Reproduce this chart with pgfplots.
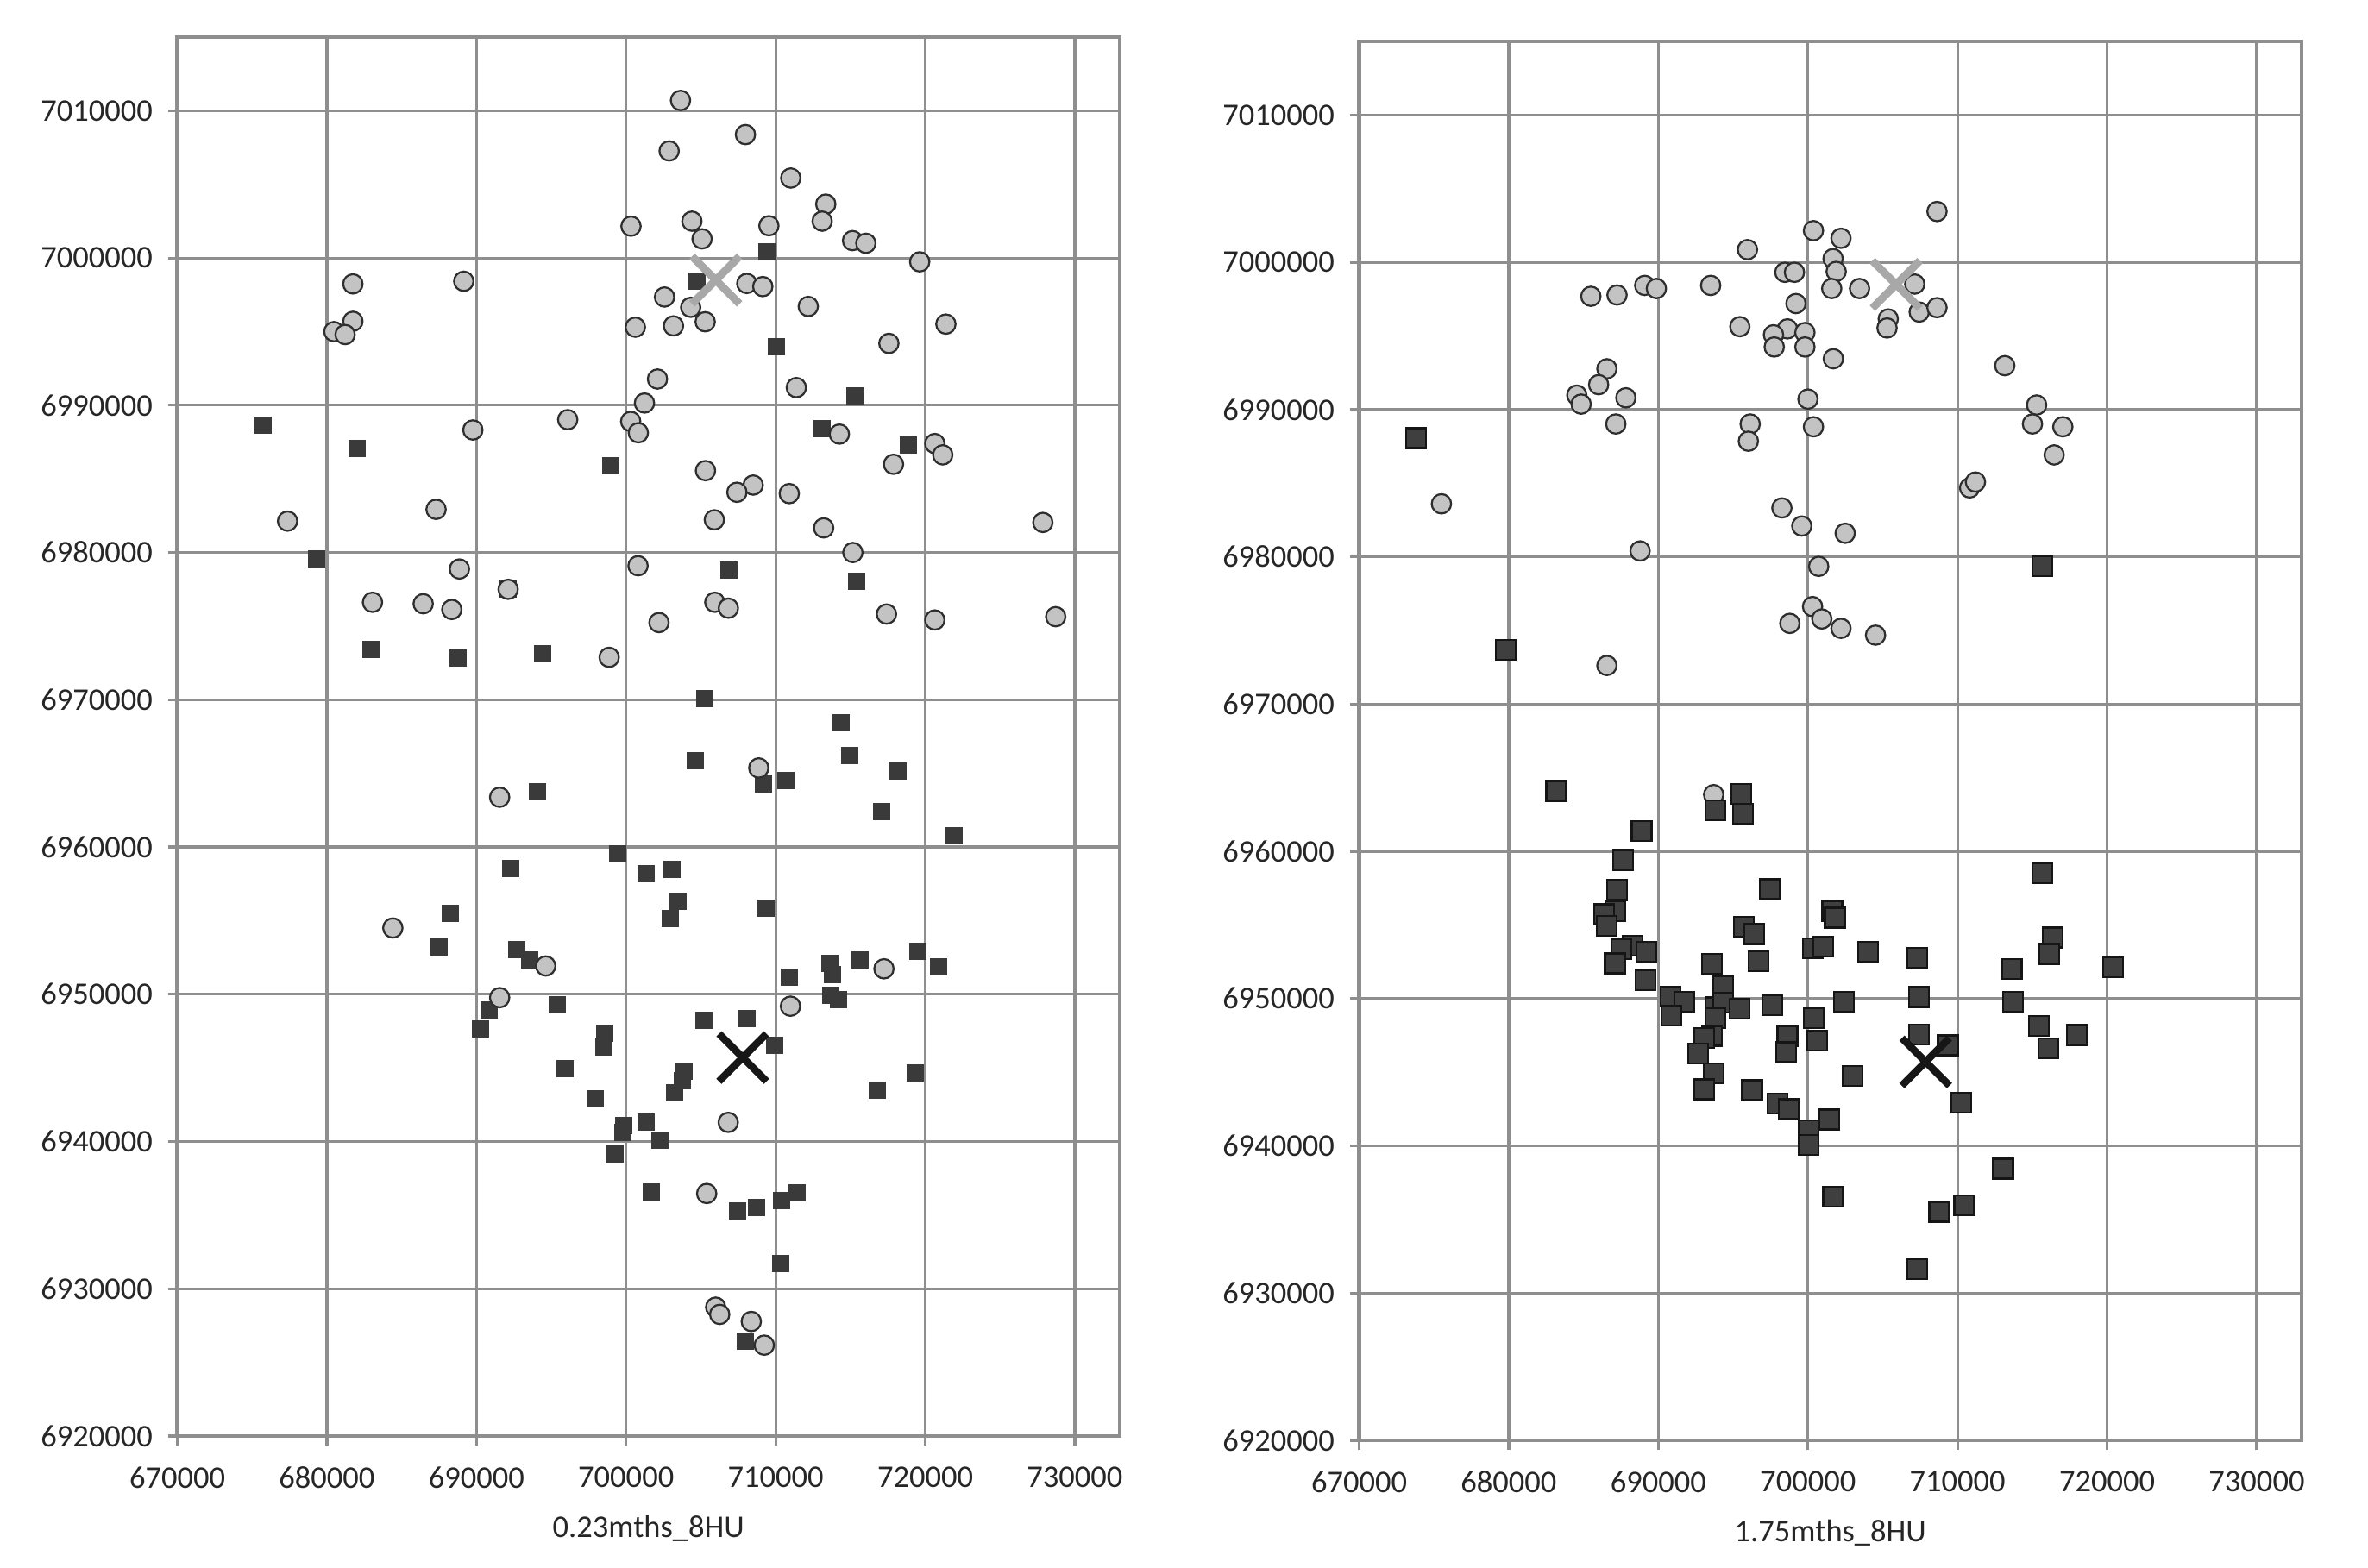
\documentclass[border=0pt]{standalone}
\usepackage{fontspec}
\setmainfont{Carlito}
\usepackage{pgfplots}
\pgfplotsset{compat=1.18}
\definecolor{gridc}{HTML}{8E8E8E}
\definecolor{circfill}{HTML}{C3C3C3}
\definecolor{circdraw}{HTML}{2E2E2E}
\definecolor{sqL}{HTML}{3A3A3A}
\definecolor{sqR}{HTML}{3F3F3F}
\definecolor{sqRd}{HTML}{151515}
\definecolor{grayx}{HTML}{A8A8A8}
\definecolor{blackx}{HTML}{161616}
\pgfplotsset{
  myaxis/.style={
    scale only axis, width=218.5pt, height=324.4pt,
    xmin=670000, xmax=733000, ymin=6920000, ymax=7015000,
    xtick={670000,680000,690000,700000,710000,720000,730000},
    ytick={6920000,6930000,6940000,6950000,6960000,6970000,6980000,6990000,7000000,7010000},
    grid=major, major grid style={gridc, line width=0.65pt},
    axis line style={gridc, line width=0.9pt},
    tick style={gridc, line width=0.65pt},
    tick align=outside, major tick length=2.2pt,
    xtick pos=left, ytick pos=left,
    scaled ticks=false,
    /pgf/number format/fixed, /pgf/number format/precision=0,
    /pgf/number format/1000 sep={}, /pgf/number format/assume math mode=true,
    ticklabel style={font=\fontsize{7.3}{8}\selectfont, text=black!85},
    xticklabel style={yshift=-1.4pt},
    label style={font=\fontsize{7.3}{8}\selectfont, text=black!85},
    xlabel style={at={(axis description cs:0.5,0)}, anchor=center, yshift=-21.4pt},
    clip=false,
  },
  circ/.style={only marks, mark=*, mark size=2.25pt, mark options={fill=circfill, draw=circdraw, line width=0.45pt}},
  sqleft/.style={only marks, mark=square*, mark size=1.9pt, mark options={fill=sqL, draw=sqL, line width=0.2pt}},
  sqright/.style={only marks, mark=square*, mark size=2.3pt, mark options={fill=sqR, draw=sqRd, line width=0.45pt, rounded corners=0.4pt}},
  grayX/.style={only marks, mark=x, mark size=7.8pt, mark options={draw=grayx, line width=1.8pt}},
  blackX/.style={only marks, mark=x, mark size=7.8pt, mark options={draw=blackx, line width=1.7pt}},
}
\begin{document}
\begin{tikzpicture}
\useasboundingbox (0,0) rectangle (549pt,363.6pt);
% ---------------- left ----------------
\begin{axis}[myaxis, at={(41.1pt,30.6pt)}, anchor=south west, xlabel={0.23mths\_8HU}]
\addplot[sqleft] table {
x y
675750 6988650
682000 6987060
698980 6985870
679300 6979590
682970 6973400
688760 6972820
694440 6973100
692120 6977500
709440 7000410
704750 6998450
710040 6993950
715270 6990610
713110 6988410
718850 6987270
706850 6978790
715410 6978020
705290 6970090
714380 6968410
694050 6963770
699430 6959520
692310 6958550
688270 6955490
687490 6953210
692680 6953050
693560 6952340
695410 6949310
690850 6948930
690280 6947670
698590 6947350
698530 6946390
695900 6944940
697930 6942910
699860 6941080
699760 6940590
699280 6939140
714940 6966240
704610 6965860
718170 6965150
709160 6964250
710680 6964510
717080 6962410
721930 6960770
701360 6958170
703070 6958460
703460 6956300
702960 6955170
709360 6955820
710910 6951180
713600 6952080
713810 6951310
715640 6952340
719510 6952890
720880 6951860
713660 6949930
714220 6949610
705190 6948220
708090 6948320
709960 6946510
703870 6944780
703790 6944130
703230 6943330
701320 6941300
702280 6940110
719320 6944680
716790 6943490
701710 6936570
707430 6935280
708740 6935540
710410 6935990
711460 6936540
710330 6931740
708000 6926430
};
\addplot[circ] table {
x y
700330 7002160
681740 6998240
689150 6998420
681740 6995700
680470 6995000
681220 6994800
700620 6995300
689760 6988320
696100 6989020
700310 6988900
700820 6988130
677370 6982130
687300 6982930
688860 6978880
683050 6976620
686440 6976520
688350 6976130
692120 6977500
700800 6979100
698870 6972880
703640 7010700
707980 7008380
702880 7007270
711010 7005430
713350 7003660
713110 7002500
704400 7002500
709550 7002190
705080 7001300
715140 7001180
716030 7001000
719630 6999740
702570 6997350
704320 6996650
705290 6995670
703170 6995390
708070 6998270
709140 6998060
712180 6996710
721380 6995510
717570 6994200
702100 6991780
701230 6990150
711380 6991200
714260 6988040
717880 6985990
720640 6987400
721170 6986630
705310 6985560
708500 6984580
707410 6984090
710910 6984000
705900 6982220
713210 6981670
727860 6982040
715160 6980000
705930 6976620
706840 6976220
702200 6975240
717410 6975820
720640 6975420
728720 6975640
691550 6963380
684410 6954500
694630 6951920
691550 6949770
708870 6965370
717240 6951730
710990 6949190
706830 6941300
705390 6936470
705990 6928750
706260 6928260
708370 6927780
709240 6926170
};
\addplot[grayX] coordinates {(706000,6998500)};
\addplot[blackX] coordinates {(707800,6945700)};
\end{axis}
% ---------------- right ----------------
\begin{axis}[myaxis, at={(315.1pt,29.6pt)}, anchor=south west, xlabel={1.75mths\_8HU}]
\addplot[circ] table {
x y
700370 7002150
695960 7000860
698460 6999320
699100 6999320
685490 6997690
687240 6997780
689090 6998430
689870 6998220
693500 6998430
699200 6997200
695450 6995630
698630 6995480
697700 6995080
697750 6994250
699800 6995230
699800 6994250
686560 6992770
686010 6991690
684550 6990980
684840 6990370
687830 6990800
687160 6989020
700000 6990710
696140 6989020
696020 6987850
700370 6988830
675500 6983600
698260 6983320
699590 6982090
688780 6980400
700720 6979350
700310 6976620
700930 6975780
698790 6975480
686560 6972620
708630 7003450
702210 7001630
701680 7000250
701890 6999380
701590 6998220
703450 6998220
707140 6998520
707440 6996620
708630 6996920
705370 6996150
705290 6995540
701700 6993450
713160 6992980
715290 6990310
715010 6989020
717040 6988830
716460 6986920
710810 6984680
711200 6985080
702490 6981600
702210 6975140
704520 6974680
693700 6963850
};
\addplot[sqright] table {
x y
673800 6988060
679790 6973690
715660 6979350
683170 6964110
693800 6962790
695550 6963920
695650 6962570
688880 6961380
687650 6959420
687240 6957370
687140 6955920
686360 6955730
686560 6954920
688260 6953580
689190 6953160
687550 6953350
687090 6952390
689150 6951230
697460 6957430
695710 6954860
696410 6954380
696680 6952520
693600 6952350
694320 6950840
690830 6950140
691750 6949790
690890 6948850
693800 6949400
694320 6949720
695450 6949300
697600 6949560
693800 6948660
693600 6947470
693050 6947310
692680 6946280
693700 6944900
693050 6943840
698630 6947470
698530 6946350
700400 6948670
700640 6947150
696270 6943780
697950 6942880
698730 6942490
700060 6941050
700060 6940080
715660 6958490
701630 6955920
701800 6955500
700350 6953410
701030 6953510
704020 6953190
707330 6952770
716360 6954150
716150 6953030
713630 6952030
720420 6952130
702420 6949780
707440 6950100
713710 6949780
715460 6948140
717980 6947530
716060 6946600
707440 6947570
709360 6946830
702980 6944740
710230 6942940
701420 6941790
713050 6938450
701690 6936550
708780 6935520
710450 6935970
707330 6931640
};
\addplot[grayX] coordinates {(705900,6998500)};
\addplot[blackX] coordinates {(707870,6945700)};
\end{axis}
\end{tikzpicture}
\end{document}
